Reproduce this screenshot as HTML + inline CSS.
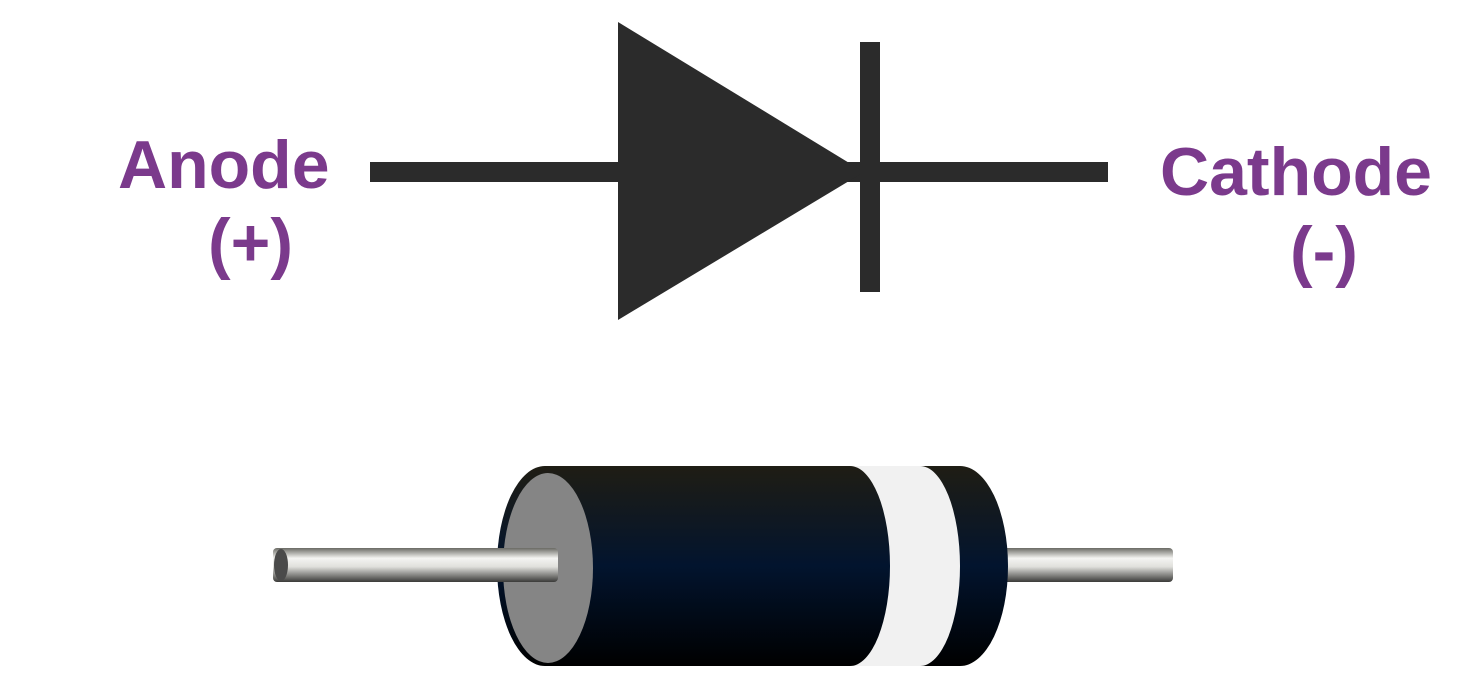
<!DOCTYPE html>
<html><head><style>html,body{margin:0;padding:0;background:#fff}svg{display:block}</style></head>
<body>
<svg width="1458" height="693" viewBox="0 0 1458 693" xmlns="http://www.w3.org/2000/svg">
<defs>
<linearGradient id="lead" x1="0" y1="0" x2="0" y2="1">
<stop offset="0" stop-color="#6a6a64"/><stop offset="0.3" stop-color="#f4f4f2"/><stop offset="0.55" stop-color="#e0e0dc"/><stop offset="1" stop-color="#3a3a38"/>
</linearGradient>
<linearGradient id="body" x1="0" y1="0" x2="0" y2="1">
<stop offset="0" stop-color="#1f1d14"/><stop offset="0.5" stop-color="#02142e"/><stop offset="1" stop-color="#000"/>
</linearGradient>
</defs>
<g fill="#7b3a8c" font-family="Liberation Sans, sans-serif" font-weight="bold" font-size="68">
<text x="118" y="188">Anode</text>
<text x="208" y="266">(+)</text>
<text x="1160" y="195">Cathode</text>
<text x="1290" y="274">(-)</text>
</g>
<g fill="#2b2b2b">
<rect x="370" y="162" width="738" height="20"/>
<polygon points="618,22 618,320 864,172"/>
<rect x="860" y="42" width="20" height="250"/>
</g>
<rect x="1000" y="548" width="173" height="34" rx="4" fill="url(#lead)"/>
<path d="M545,466 L960,466 A48,100 0 0 1 960,666 L545,666 A48,100 0 0 1 545,466 Z" fill="url(#body)"/>
<path d="M850,466 L920,466 A40,100 0 0 1 920,666 L850,666 A40,100 0 0 0 850,466 Z" fill="#f1f1f1"/>
<ellipse cx="548" cy="568" rx="45" ry="95" fill="#858585"/>
<rect x="273" y="548" width="285" height="34" rx="4" fill="url(#lead)"/>
<ellipse cx="281" cy="565" rx="7" ry="16" fill="#4a4a4a"/>
</svg>
</body></html>
